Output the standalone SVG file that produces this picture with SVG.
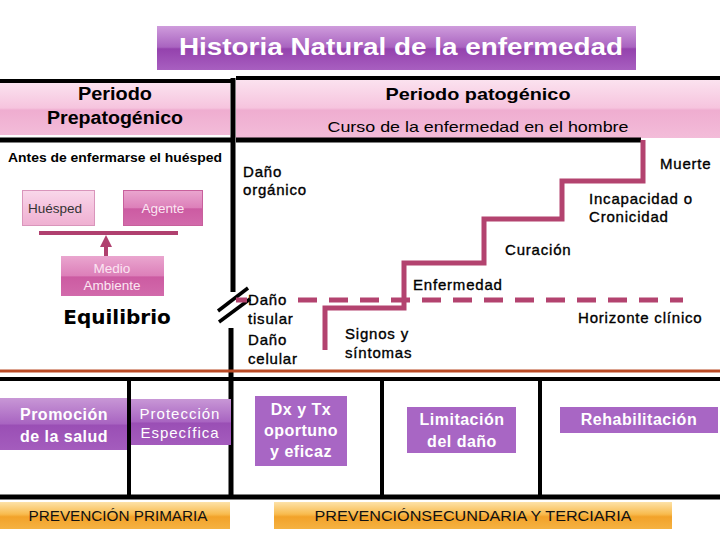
<svg xmlns="http://www.w3.org/2000/svg" width="720" height="540" viewBox="0 0 720 540">
<defs>
<linearGradient id="gTitle" x1="0" y1="0" x2="0" y2="1">
<stop offset="0" stop-color="#cf9cdc"/><stop offset="0.48" stop-color="#a964c0"/><stop offset="0.52" stop-color="#9442ad"/><stop offset="1" stop-color="#a85fc0"/>
</linearGradient>
<linearGradient id="gPink" x1="0" y1="0" x2="0" y2="1">
<stop offset="0" stop-color="#fbe2ef"/><stop offset="0.48" stop-color="#f6c4de"/><stop offset="0.52" stop-color="#efadd0"/><stop offset="1" stop-color="#f3bcd9"/>
</linearGradient>
<linearGradient id="gLight" x1="0" y1="0" x2="0" y2="1">
<stop offset="0" stop-color="#f9d8ea"/><stop offset="0.5" stop-color="#f4c2dd"/><stop offset="1" stop-color="#efb0d2"/>
</linearGradient>
<linearGradient id="gMag" x1="0" y1="0" x2="0" y2="1">
<stop offset="0" stop-color="#eaa6cf"/><stop offset="0.5" stop-color="#dc7fb9"/><stop offset="0.52" stop-color="#cc5ba2"/><stop offset="1" stop-color="#d26aab"/>
</linearGradient>
<linearGradient id="gPurp" x1="0" y1="0" x2="0" y2="1">
<stop offset="0" stop-color="#c897d6"/><stop offset="0.5" stop-color="#a864c1"/><stop offset="0.52" stop-color="#9a4fb5"/><stop offset="1" stop-color="#a45cbd"/>
</linearGradient>
<linearGradient id="gOrange" x1="0" y1="0" x2="0" y2="1">
<stop offset="0" stop-color="#fde2a8"/><stop offset="0.45" stop-color="#f8bb4e"/><stop offset="0.55" stop-color="#f2a22a"/><stop offset="1" stop-color="#f5b242"/>
</linearGradient>
<marker id="arr" viewBox="0 0 10 10" refX="0" refY="5" markerWidth="3" markerHeight="3.5" orient="auto" markerUnits="strokeWidth">
<path d="M0,0 L10,5 L0,10 Z" fill="#b0406f"/>
</marker>
<style>
text{font-family:"Liberation Sans",Arial,sans-serif;}
.blk{stroke:#000;stroke-linecap:butt;fill:none;}
.lbl{font-size:15px;fill:#000;stroke:#000;stroke-width:0.35px;letter-spacing:0.8px;}
.pw{font-size:16px;font-weight:bold;fill:#fff;text-anchor:middle;letter-spacing:0.5px;}
.flat{fill:#a866c4;}
.stair{fill:none;stroke:#b3436f;stroke-width:5;}
.prev{font-size:14px;fill:#111;text-anchor:middle;}
</style>
</defs>
<rect width="720" height="540" fill="#fff"/>

<g id="title">
<rect x="157" y="26" width="479" height="44" fill="url(#gTitle)"/>
<text x="401" y="55" font-size="24" font-weight="bold" fill="#fff" text-anchor="middle" textLength="444" lengthAdjust="spacingAndGlyphs">Historia Natural de la enfermedad</text>
</g>

<g id="periodo-prepatogenico">
<rect x="0" y="83" width="230" height="52" fill="url(#gPink)"/>
<text x="115" y="100" font-size="18" font-weight="bold" text-anchor="middle" textLength="74" lengthAdjust="spacingAndGlyphs">Periodo</text>
<text x="115" y="124" font-size="18" font-weight="bold" text-anchor="middle" textLength="136" lengthAdjust="spacingAndGlyphs">Prepatogénico</text>
</g>

<g id="periodo-patogenico">
<rect x="236" y="80" width="484" height="58" fill="url(#gPink)"/>
<text x="478" y="100" font-size="17" font-weight="bold" text-anchor="middle" textLength="185" lengthAdjust="spacingAndGlyphs">Periodo patogénico</text>
<text x="478" y="132" font-size="15" text-anchor="middle" textLength="301" lengthAdjust="spacingAndGlyphs">Curso de la enfermedad en el hombre</text>
</g>

<g id="frame">
<line class="blk" x1="0" y1="81" x2="232" y2="81" stroke-width="4"/>
<line class="blk" x1="236" y1="78" x2="720" y2="78" stroke-width="4"/>
<line class="blk" x1="0" y1="140" x2="232" y2="140" stroke-width="5"/>
<line class="blk" x1="236" y1="140" x2="641" y2="140" stroke-width="5"/>
<line class="blk" x1="233" y1="78" x2="233" y2="292" stroke-width="5"/>
<line class="blk" x1="231" y1="328" x2="231" y2="497" stroke-width="5"/>
<line class="blk" x1="218" y1="311" x2="248" y2="288" stroke-width="3.5"/>
<line class="blk" x1="219" y1="322" x2="250" y2="299" stroke-width="3.5"/>
<line x1="0" y1="371" x2="720" y2="371" stroke="#b94a25" stroke-width="3"/>
<line class="blk" x1="0" y1="379" x2="720" y2="379" stroke-width="4"/>
<line class="blk" x1="0" y1="497" x2="720" y2="497" stroke-width="5"/>
<line class="blk" x1="129" y1="379" x2="129" y2="497" stroke-width="4"/>
<line class="blk" x1="382" y1="379" x2="382" y2="497" stroke-width="4"/>
<line class="blk" x1="540" y1="379" x2="540" y2="497" stroke-width="4"/>
</g>

<g id="antes">
<text x="8" y="162" font-size="13" font-weight="bold" textLength="214" lengthAdjust="spacingAndGlyphs">Antes de enfermarse el huésped</text>
</g>

<g id="huesped">
<rect x="22.5" y="190.5" width="72" height="35" fill="url(#gLight)" stroke="#d995bb" stroke-width="1"/>
<text x="55" y="213" font-size="13.5" fill="#333" text-anchor="middle">Huésped</text>
</g>
<g id="agente">
<rect x="123.5" y="190.5" width="79" height="35" fill="url(#gMag)" stroke="#c8609c" stroke-width="1"/>
<text x="163" y="213" font-size="13.5" fill="#fbe6f2" text-anchor="middle">Agente</text>
</g>
<g id="medio-ambiente">
<rect x="61" y="256" width="103" height="40" fill="url(#gMag)"/>
<text x="112" y="273" font-size="13.5" fill="#fbe6f2" text-anchor="middle">Medio</text>
<text x="112" y="290" font-size="13.5" fill="#fbe6f2" text-anchor="middle">Ambiente</text>
</g>
<g id="equilibrio">
<text x="117" y="324" font-size="20" font-weight="bold" fill="#000" text-anchor="middle" style="font-family:'DejaVu Sans',sans-serif">Equilibrio</text>
</g>

<g id="connectors">
<line x1="39" y1="233" x2="178" y2="233" stroke="#b0406f" stroke-width="4"/>
<line x1="106" y1="256" x2="106" y2="247" stroke="#b0406f" stroke-width="4" marker-end="url(#arr)"/>
<path class="stair" d="M643,140 V181 H562 V219 H484 V263 H404 V308 H325 V350"/>
<line x1="236" y1="300" x2="247" y2="300" stroke="#b3436f" stroke-width="5"/>
<line x1="298" y1="300" x2="683" y2="300" stroke="#b3436f" stroke-width="5" stroke-dasharray="19 12"/>
</g>

<g id="labels">
<text class="lbl" x="243" y="177">Daño</text>
<text class="lbl" x="243" y="195">orgánico</text>
<text class="lbl" x="660" y="169">Muerte</text>
<text class="lbl" x="589" y="204">Incapacidad o</text>
<text class="lbl" x="589" y="222">Cronicidad</text>
<text class="lbl" x="505" y="255">Curación</text>
<text class="lbl" x="413" y="290">Enfermedad</text>
<text class="lbl" x="578" y="323">Horizonte clínico</text>
<text class="lbl" x="345" y="339">Signos y</text>
<text class="lbl" x="345" y="358">síntomas</text>
<text class="lbl" x="248" y="305">Daño</text>
<text class="lbl" x="248" y="324">tisular</text>
<text class="lbl" x="248" y="345">Daño</text>
<text class="lbl" x="248" y="364">celular</text>
</g>

<g id="promocion">
<rect x="0" y="398" width="127" height="52" fill="url(#gPurp)"/>
<text class="pw" x="64" y="420">Promoción</text>
<text class="pw" x="64" y="442">de la salud</text>
</g>
<g id="proteccion">
<rect x="131" y="399" width="100" height="46" fill="url(#gPurp)"/>
<text class="pw" x="180" y="419" style="font-weight:normal;font-size:15px;letter-spacing:1px">Protección</text>
<text class="pw" x="180" y="438" style="font-weight:normal;font-size:15px;letter-spacing:1px">Específica</text>
</g>
<g id="dx-tx">
<rect class="flat" x="255" y="396" width="92" height="70"/>
<text class="pw" x="301" y="415">Dx y Tx</text>
<text class="pw" x="301" y="436">oportuno</text>
<text class="pw" x="301" y="457">y eficaz</text>
</g>
<g id="limitacion">
<rect class="flat" x="407" y="407" width="109" height="46"/>
<text class="pw" x="462" y="425">Limitación</text>
<text class="pw" x="462" y="447">del daño</text>
</g>
<g id="rehabilitacion">
<rect class="flat" x="560" y="407" width="158" height="26"/>
<text class="pw" x="639" y="425">Rehabilitación</text>
</g>

<g id="prevencion-primaria">
<rect x="0" y="502" width="230" height="27" fill="url(#gOrange)"/>
<text class="prev" x="118" y="521" textLength="179" lengthAdjust="spacingAndGlyphs">PREVENCIÓN PRIMARIA</text>
</g>
<g id="prevencion-secundaria">
<rect x="274" y="502" width="398" height="27" fill="url(#gOrange)"/>
<text class="prev" x="473" y="521" textLength="317" lengthAdjust="spacingAndGlyphs">PREVENCIÓNSECUNDARIA Y TERCIARIA</text>
</g>
</svg>
